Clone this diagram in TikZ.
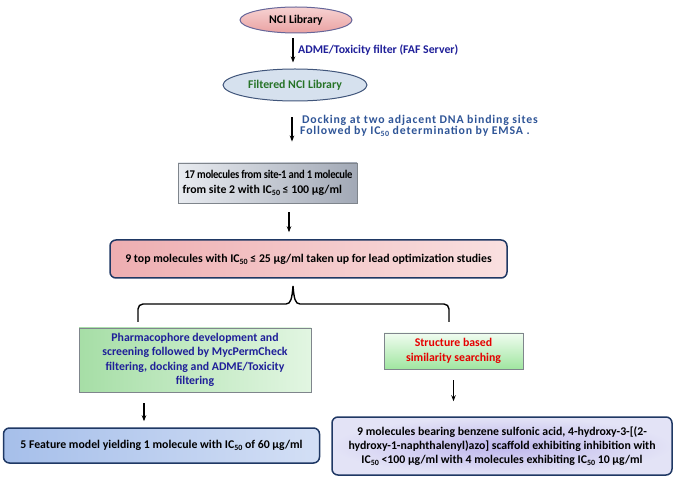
\documentclass[tikz,border=0pt]{standalone}
\usepackage{fontspec}
\setmainfont{Carlito}
\usetikzlibrary{shapes.geometric,arrows.meta}
\newcommand{\subs}[1]{\raisebox{-0.35ex}{\fontsize{8}{8}\selectfont #1}}
\definecolor{navy}{HTML}{1F3864}
\definecolor{lblblue}{HTML}{1F1F99}
\definecolor{dockblue}{HTML}{2F5597}
\definecolor{filtgreen}{HTML}{267326}
\definecolor{boxgray}{HTML}{7F858C}
\definecolor{pinkL}{HTML}{EEAEB1}
\definecolor{pinkR}{HTML}{F9E0E0}
\definecolor{grayL}{HTML}{E8EBF0}
\definecolor{grayR}{HTML}{A2A9B6}
\definecolor{greenL}{HTML}{A6DEA6}
\definecolor{greenR}{HTML}{E2F6E2}
\definecolor{greenT}{HTML}{F0FCF0}
\definecolor{greenB}{HTML}{A0E6A0}
\definecolor{blueL}{HTML}{A6BFEA}
\definecolor{blueR}{HTML}{D3DFF5}
\definecolor{lavIn}{HTML}{BEB6EC}
\definecolor{lavOut}{HTML}{E3E3F6}
\definecolor{nciT}{HTML}{F6D2D2}
\definecolor{nciB}{HTML}{EAA2A2}
\definecolor{filtF}{HTML}{D6E1EE}
\begin{document}
\begin{tikzpicture}[x=1pt,y=-1pt,
  font=\fontsize{11.8}{14.3}\selectfont\bfseries,
  arr/.style={-{Stealth[length=6pt,width=4.5pt]},line width=1.4pt,black},
  ell/.style={ellipse,inner sep=0pt,line width=1pt},
  sqbox/.style={rectangle,inner sep=2pt,draw=boxgray,line width=0.9pt},
  rbox/.style={rectangle,rounded corners=6pt,inner sep=2pt,draw=navy,line width=1.5pt}]
\useasboundingbox (0,0) rectangle (675,478);

\node[ell,draw=gray!80!blue,top color=nciT,bottom color=nciB,minimum width=112,minimum height=26] (nci) at (296,20) {NCI Library};
\node[ell,draw=navy!85,fill=filtF,minimum width=144,minimum height=32,text=filtgreen] (filt) at (295,85) {Filtered NCI Library};

\node[sqbox,left color=grayL,right color=grayR,minimum width=179,minimum height=40,align=left] (b17) at (267.5,183) {\scalebox{0.9}[1]{\addfontfeatures{LetterSpace=-3}\ 17 molecules from site-1 and 1 molecule}\\from site 2 with IC\subs{50} ≤ 100 µg/ml};

\node[rbox,left color=pinkL,right color=pinkR,minimum width=397,minimum height=38] (b9) at (308.5,259) {9 top molecules with IC\subs{50} ≤ 25 µg/ml taken up for lead optimization studies};

\node[sqbox,left color=greenL,right color=greenR,minimum width=232,minimum height=64,align=center,text=lblblue] (gl) at (195,360) {Pharmacophore development and\\screening followed by MycPermCheck\\filtering, docking and ADME/Toxicity\\filtering};

\node[sqbox,top color=greenT,bottom color=greenB,minimum width=139,minimum height=36,align=center,text=red!90!black] (gr) at (453.5,351) {Structure based\\similarity searching};

\node[rbox,left color=blueL,right color=blueR,minimum width=316,minimum height=35] (bl) at (161.5,445.5) {5 Feature model yielding 1 molecule with IC\subs{50} of 60 µg/ml};

\node[rbox,inner color=lavIn,outer color=lavOut,minimum width=340,minimum height=58,align=center] (br) at (502,446) {9 molecules bearing benzene sulfonic acid, 4-hydroxy-3-[(2-\\hydroxy-1-naphthalenyl)azo] scaffold exhibiting inhibition with\\IC\subs{50} <100 µg/ml with 4 molecules exhibiting IC\subs{50} 10 µg/ml};

% arrows
\draw[arr,shorten <=5pt,shorten >=6pt] ([xshift=-3pt]nci.south) -- ([xshift=-3pt]nci.south |- filt.north);
\node[anchor=west,text=lblblue,inner sep=0pt] (l1) at (298,50) {ADME/Toxicity filter (FAF Server)};

\draw[arr,shorten <=16pt,shorten >=21pt] ([xshift=-3pt]filt.south) -- ([xshift=-3pt]filt.south |- b17.north);
\node[anchor=west,align=left,text=dockblue,inner sep=0pt,font=\fontsize{11.8}{11}\selectfont\bfseries\addfontfeatures{LetterSpace=7}] (l2) at (300,126) {\,Docking at two adjacent DNA binding sites\\Followed by IC\subs{50} determination by EMSA .};

\draw[arr,shorten <=9pt,shorten >=7pt] ([xshift=21.5pt]b17.south) -- ([xshift=21.5pt]b17.south |- b9.north);

% brace
\draw[line width=1.4pt,black] (138,322) -- (138,309) arc[start angle=180,end angle=270,radius=5] -- (286,304) .. controls (291,304) and (292,298) .. (293,286) .. controls (294,298) and (295,304) .. (300,304) -- (444,304) arc[start angle=270,end angle=360,radius=5] -- (449,322);

\draw[arr,shorten <=11pt,shorten >=6pt] ([xshift=-51pt]gl.south) -- ([xshift=-51pt]gl.south |- bl.north);
\draw[arr,shorten <=11pt,shorten >=15pt] (gr.south) -- (gr.south |- br.north);
\end{tikzpicture}
\end{document}
